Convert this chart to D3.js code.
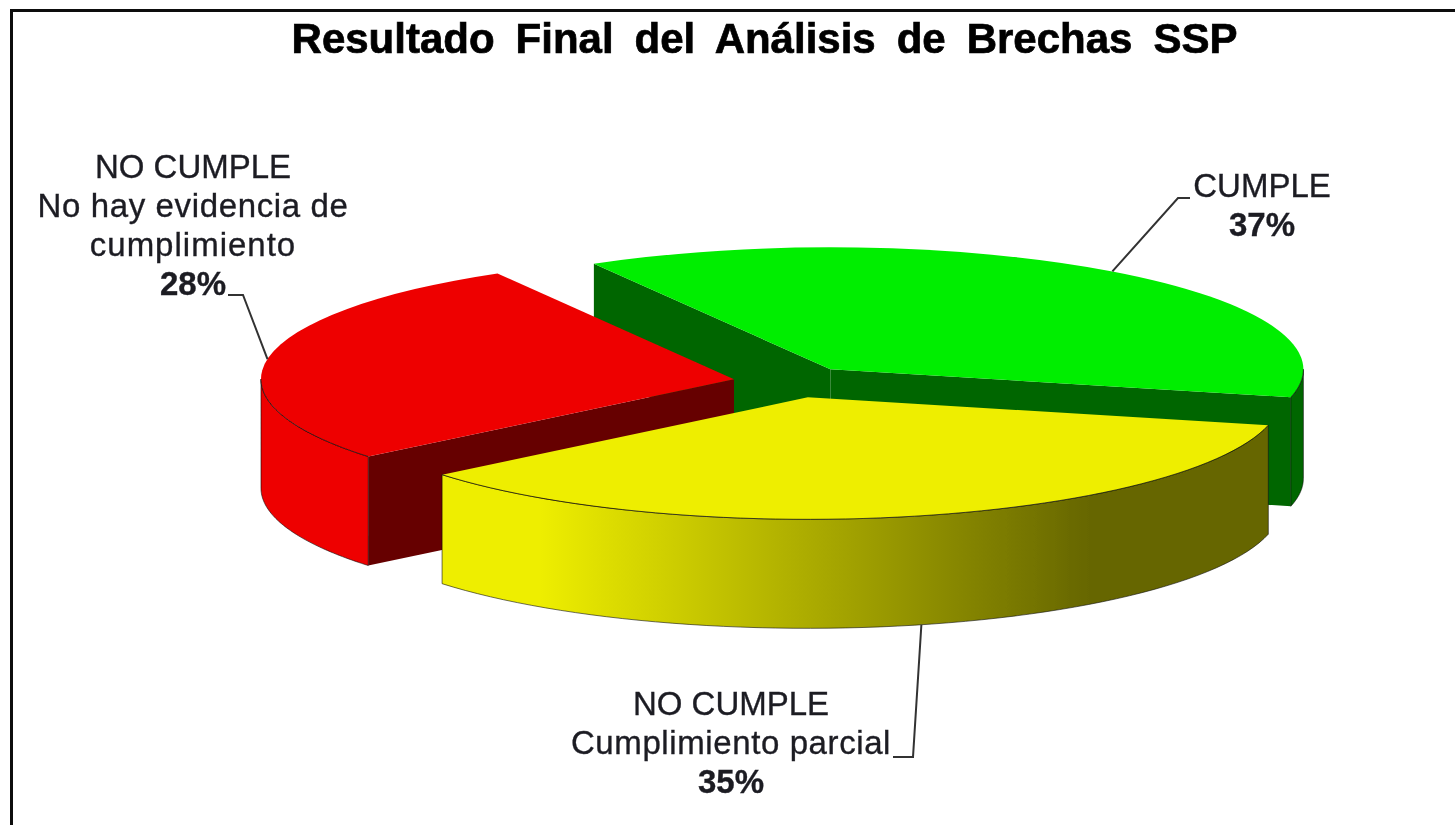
<!DOCTYPE html>
<html>
<head>
<meta charset="utf-8">
<script src="https://cdn.jsdelivr.net/npm/d3@7"></script>
<style>
html, body { margin: 0; padding: 0; background: #fff; overflow: hidden; }
text { font-family: "Liberation Sans", Arial, sans-serif; }
</style>
</head>
<body>
<div id="chart"></div>
<script>
var title = "Resultado Final del Análisis de Brechas SSP";
var categories = ["CUMPLE", "NO CUMPLE Cumplimiento parcial", "NO CUMPLE No hay evidencia de cumplimiento"];
// the labels show them rounded
var values = [37, 35.4, 27.6];
var labelLines = [
	["CUMPLE"],
	["NO CUMPLE", "Cumplimiento parcial"],
	["NO CUMPLE", "No hay evidencia de", "cumplimiento"]
];
var topColors = ["#00ee00", "#eeee00", "#ee0000"];
var darkColors = ["#006600", "#666600", "#660000"];

var width = 1455,
    height = 825;

// pie geometry, the tilt comes from squashing a flat circle
var cx = 794, cy = 382,
    rx = 473, ry = 122,
    depth = 109,
    explode = 61;

// label layout, same order as values
var labelX = [1262, 731, 193];
var labelY = [197, 715, 178];
var lineStep = 39;
var lineTracking = [[0], [0, 0.6], [0, 0.63, 1]];
var elbows = [
	[[1178, 198], [1190, 198]],
	[[913, 757], [893, 757]],
	[[243, 295], [228, 295]]
];

var svg = d3.select("#chart").append("svg")
    .attr("width", width)
    .attr("height", height);

var defs = svg.append("defs");

// the reference is a slightly soft scan
defs.append("filter").attr("id", "soft")
    .attr("x", 0).attr("y", 0).attr("width", 1).attr("height", 1)
  .append("feGaussianBlur").attr("stdDeviation", 0.6);

values.forEach(function(v, i) {
	var g = defs.append("linearGradient")
	    .attr("id", "wall" + i)
	    .attr("gradientUnits", "userSpaceOnUse")
	    .attr("x1", 540).attr("x2", 1090).attr("y1", 0).attr("y2", 0);
	g.append("stop").attr("offset", 0).attr("stop-color", topColors[i]);
	g.append("stop").attr("offset", 1).attr("stop-color", darkColors[i]);
});

var root = svg.append("g").attr("filter", "url(#soft)");

root.append("rect")
    .attr("width", width)
    .attr("height", height)
    .attr("fill", "#fff");

// frame, only left and top are in the crop
root.append("path")
    .attr("d", "M11.5," + height + "V10.5H" + width)
    .attr("fill", "none")
    .attr("stroke", "#111")
    .attr("stroke-width", 3);

root.append("text")
    .attr("x", 764.5)
    .attr("y", 53)
    .attr("text-anchor", "middle")
    .attr("font-size", 42)
    .attr("font-weight", "bold")
    .attr("word-spacing", 9.3)
    .attr("fill", "#000")
    .attr("stroke", "#000")
    .attr("stroke-width", 0.7)
    .text(title);

var pie = d3.pie()
    .sort(null)
    .startAngle(-Math.PI / 6)
    .endAngle(2 * Math.PI - Math.PI / 6)
    .value(function(d) { return d; });

var arcs = pie(values);
// leaders and percentages follow the rounded figures
var labelArcs = pie(values.map(Math.round));

var arc = d3.arc()
    .outerRadius(rx)
    .innerRadius(0);

var line = d3.line();

function centre(d) {
	var mid = (d.startAngle + d.endAngle) / 2;
	return [cx + explode * Math.sin(mid), cy - explode * Math.cos(mid) * ry / rx];
}

function rim(d, a) {
	var c = centre(d);
	return [c[0] + rx * Math.sin(a), c[1] - ry * Math.cos(a)];
}

function radialFace(d, a) {
	var c = centre(d), p = rim(d, a);
	return line([c, p, [p[0], p[1] + depth], [c[0], c[1] + depth]]) + "Z";
}

function frontRim(d) {
	var a0 = Math.max(d.startAngle, Math.PI / 2),
	    a1 = Math.min(d.endAngle, 3 * Math.PI / 2);
	if (a1 <= a0) return null;
	return d3.range(0, 61).map(function(k) { return rim(d, a0 + (a1 - a0) * k / 60); });
}

function outerWall(d) {
	var upper = frontRim(d);
	if (!upper) return null;
	var lower = upper.slice().reverse().map(function(p) { return [p[0], p[1] + depth]; });
	return line(upper.concat(lower)) + "Z";
}

// back to front: green, red, yellow
[0, 2, 1].forEach(function(i) {
	var d = arcs[i],
	    g = root.append("g").attr("class", "arc");

	if (Math.sin(d.startAngle) < 0) {
		g.append("path")
		    .attr("d", radialFace(d, d.startAngle))
		    .attr("fill", darkColors[i]);
	}
	if (Math.sin(d.endAngle) > 0) {
		g.append("path")
		    .attr("d", radialFace(d, d.endAngle))
		    .attr("fill", darkColors[i]);
	}

	var wall = outerWall(d);
	if (wall) {
		g.append("path")
		    .attr("d", wall)
		    .attr("fill", "url(#wall" + i + ")")
		    .attr("stroke", "#111")
		    .attr("stroke-opacity", 0.6)
		    .attr("stroke-width", 1);
	}

	var c = centre(d);
	g.append("path")
	    .attr("d", arc(d))
	    .attr("transform", "translate(" + c[0] + "," + c[1] + ") scale(1," + (ry / rx) + ")")
	    .attr("fill", topColors[i]);

	if (wall) {
		// thin dark seam where the top meets the wall
		g.append("path")
		    .attr("d", line(frontRim(d)))
		    .attr("fill", "none")
		    .attr("stroke", "#111")
		    .attr("stroke-opacity", 0.7)
		    .attr("stroke-width", 1);
	}
});

// leader lines start on the rim at the middle of each slice
labelArcs.forEach(function(d, i) {
	var mid = (d.startAngle + d.endAngle) / 2,
	    p = rim(d, mid);
	if (Math.cos(mid) < 0) p = [p[0], p[1] + depth];
	root.append("path")
	    .attr("d", line([p].concat(elbows[i])))
	    .attr("fill", "none")
	    .attr("stroke", "#333")
	    .attr("stroke-width", 2);
});

labelArcs.forEach(function(d, i) {
	var t = root.append("text")
	    .attr("text-anchor", "middle")
	    .attr("font-size", 33)
	    .attr("fill", "#1c1c24")
	    .attr("stroke", "#1c1c24")
	    .attr("stroke-width", 0.35);
	labelLines[i].forEach(function(s, k) {
		t.append("tspan")
		    .attr("x", labelX[i])
		    .attr("y", labelY[i] + k * lineStep)
		    .attr("letter-spacing", lineTracking[i][k])
		    .text(s);
	});
	t.append("tspan")
	    .attr("x", labelX[i])
	    .attr("y", labelY[i] + labelLines[i].length * lineStep)
	    .attr("font-weight", "bold")
	    .text(d.data + "%");
});
</script>
</body>
</html>
